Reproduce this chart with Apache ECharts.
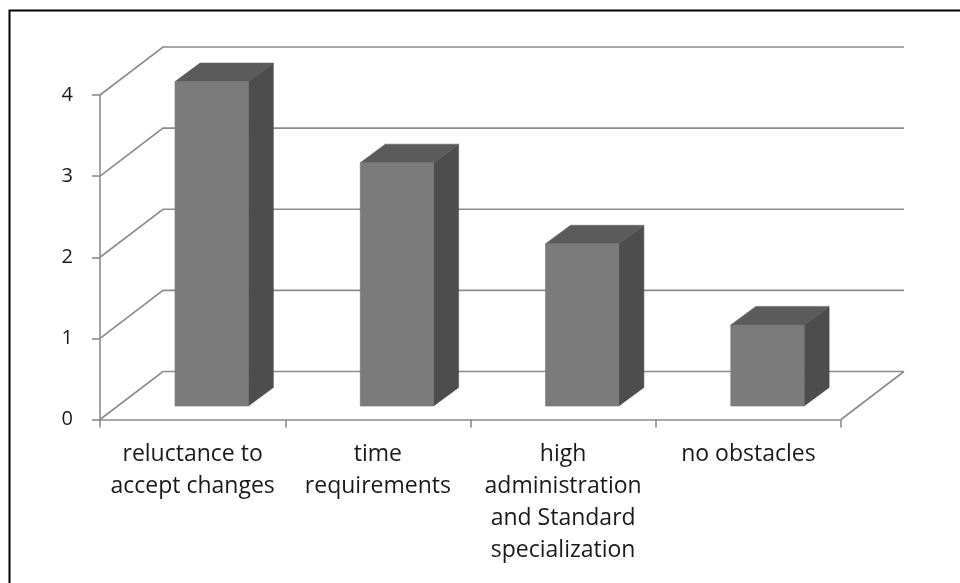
<!DOCTYPE html>
<html>
<head>
<meta charset="utf-8">
<script src="https://cdn.jsdelivr.net/npm/echarts@6/dist/echarts.min.js"></script>
<style>
  html, body { margin: 0; padding: 0; background: #fff; }
  #chart { width: 960px; height: 583px; }
</style>
</head>
<body>
<div id="chart"></div>
<script>
const categories = [
  'reluctance to\naccept changes',
  'time\nrequirements',
  'high\nadministration\nand Standard\nspecialization',
  'no obstacles'
];
const values = [4, 3, 2, 1];
const yTicks = [0, 1, 2, 3, 4];

const FONT = '"Open Sans", Carlito, Lato, sans-serif';
const GRID_COLOR = '#8c8c8c';
// projection offsets (pixels)
const WALL_DX = 63, WALL_DY = -48;     // depth of the chart box
const FRONT_DX = 17.7, FRONT_DY = -13.5; // bar front plane from axis plane
const BAR_DX = 25, BAR_DY = -18.5;     // depth of each bar
const BAR_WIDTH_RATIO = 0.396;

const chart = echarts.init(document.getElementById('chart'), null, { renderer: 'canvas' });

function renderWall(params, api) {
  const v = api.value(0);
  const cs = params.coordSys;
  const x0 = cs.x, x1 = cs.x + cs.width;
  const y = api.coord([0, v])[1];
  const style = { stroke: GRID_COLOR, lineWidth: 1.6, fill: null };
  const children = [
    { type: 'polyline', shape: { points: [[x0, y], [x0 + WALL_DX, y + WALL_DY], [x1 + WALL_DX, y + WALL_DY]] }, style: style }
  ];
  if (v === 0) {
    children.push({ type: 'line', shape: { x1: x1, y1: y, x2: x1 + WALL_DX, y2: y + WALL_DY }, style: style });
  }
  return { type: 'group', children: children };
}

function renderBar(params, api) {
  const idx = api.value(0);
  const val = api.value(1);
  const top = api.coord([idx, val]);
  const base = api.coord([idx, 0]);
  const band = api.size([1, 0])[0];
  const w = band * BAR_WIDTH_RATIO;
  const xl = top[0] - w / 2 + FRONT_DX + 1.4;
  const xr = xl + w;
  const yt = top[1] + FRONT_DY;
  const yb = base[1] + FRONT_DY;
  return {
    type: 'group',
    children: [
      { type: 'polygon', shape: { points: [[xr, yt], [xr + BAR_DX, yt + BAR_DY], [xr + BAR_DX, yb + BAR_DY], [xr, yb]] },
        style: { fill: '#4d4d4d', stroke: '#4d4d4d', lineWidth: 0.5 } },
      { type: 'polygon', shape: { points: [[xl, yt], [xr, yt], [xr + BAR_DX, yt + BAR_DY], [xl + BAR_DX, yt + BAR_DY]] },
        style: { fill: '#5b5b5b', stroke: '#5b5b5b', lineWidth: 0.5 } },
      { type: 'rect', shape: { x: xl, y: yt, width: w, height: yb - yt },
        style: { fill: '#7b7b7b', stroke: '#727272', lineWidth: 0.6 } }
    ]
  };
}

chart.setOption({
  animation: false,
  backgroundColor: '#ffffff',
  grid: { left: 100, right: 119, top: 95, bottom: 163.5, containLabel: false },
  xAxis: {
    type: 'category',
    data: categories,
    axisLine: { show: true, lineStyle: { color: GRID_COLOR, width: 1.6 } },
    axisTick: { show: true, length: 8, lineStyle: { color: GRID_COLOR, width: 1.6 } },
    axisLabel: { interval: 0, color: '#1a1a1a', fontFamily: FONT, fontSize: 23, lineHeight: 32, margin: 19 },
    splitLine: { show: false }
  },
  yAxis: {
    type: 'value',
    min: 0, max: 4, interval: 1,
    axisLine: { show: true, lineStyle: { color: GRID_COLOR, width: 1.6 } },
    axisTick: { show: true, length: 8, lineStyle: { color: GRID_COLOR, width: 1.6 } },
    axisLabel: { color: '#1a1a1a', fontFamily: FONT, fontSize: 20, margin: 27 },
    splitLine: { show: false }
  },
  graphic: [
    { type: 'polyline', shape: { points: [[9.5, 583], [9.5, 10.5], [960, 10.5]] },
      style: { stroke: '#000', lineWidth: 2, fill: null }, z: 100 }
  ],
  series: [
    { type: 'custom', name: 'walls', z: 1, silent: true, renderItem: renderWall,
      data: yTicks.map(function (v) { return [v]; }), encode: { y: 0 } },
    { type: 'custom', name: 'bars', z: 2, silent: true, renderItem: renderBar,
      data: values.map(function (v, i) { return [i, v]; }), encode: { x: 0, y: 1 } }
  ]
});
</script>
</body>
</html>
